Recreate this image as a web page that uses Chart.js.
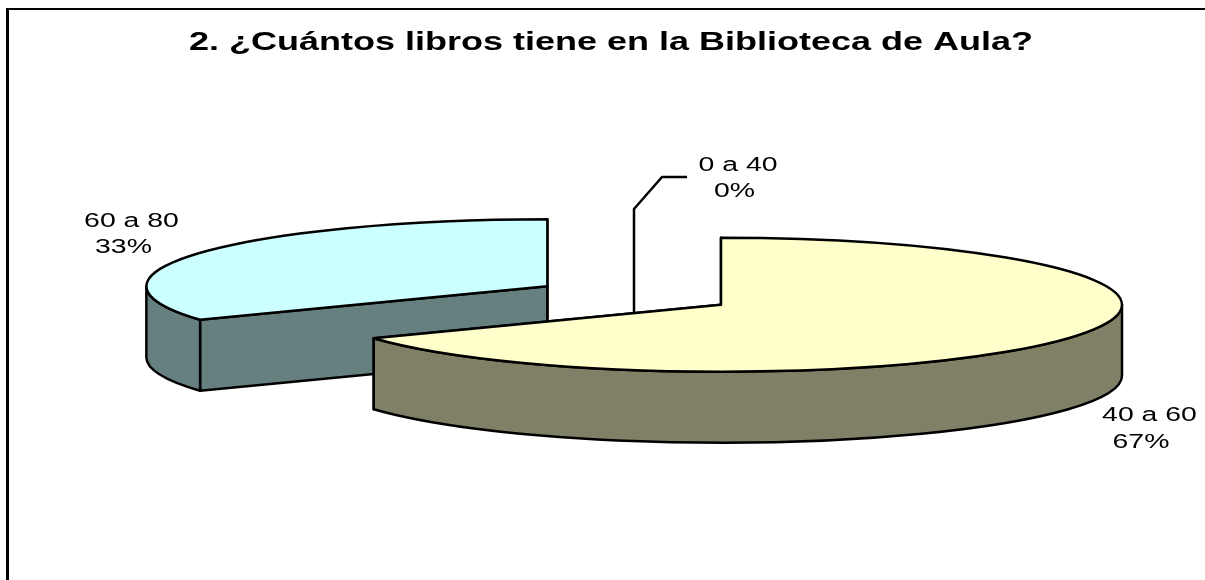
<!DOCTYPE html>
<html>
<head>
<meta charset="utf-8">
<script src="https://cdn.jsdelivr.net/npm/chart.js@4"></script>
<style>
  html, body { margin: 0; background: #fff; overflow: hidden; }
  #frame { position: absolute; left: 6px; top: 8px; width: 1199px; height: 572px; border-left: 3px solid #000; border-top: 2px solid #000; }
  canvas { position: absolute; left: 0; top: 0; }
</style>
</head>
<body>
<div id="frame"></div>
<canvas id="pie" width="1205" height="580"></canvas>
<script>
const chartTitle = '2. ¿Cuántos libros tiene en la Biblioteca de Aula?';
const categories = ['0 a 40', '40 a 60', '60 a 80'];
const values = [0, 2, 1];
const percents = ['0%', '67%', '33%'];
const topColors = ['#FFFFFF', '#FFFFCC', '#CCFFFF'];
const sideColors = ['#808080', '#808066', '#668080'];

// the chart is a flat pie for Chart.js, the 3D look is done at draw time
const squash = 67 / 401;
const depth = 71;
const pieShiftX = 110;
const explode = [0, 0, 0.5];
const explodeLift = 1.1;
const textStretch = 1.42;
const titleStretch = 1.44;
const nameSpots = [[738, 165], [1149.5, 415], [131.5, 221]];
const percentSpots = [[734.5, 191], [1141, 442], [123.5, 247]];
const leader = [[687, 177], [662, 177], [634, 209], [634, 313]];

function slicePath(ctx, a, from, to, down) {
  ctx.ellipse(a.cx, a.cy + down, a.r, a.r * squash, 0, from, to);
}

function drawSlice(ctx, a, top, side) {
  ctx.strokeStyle = '#000';
  ctx.lineWidth = 2.5;
  ctx.lineJoin = 'round';

  // cut faces first, later fills hide the ones facing away
  ctx.fillStyle = side;
  [a.start, a.end].forEach(angle => {
    const ex = a.cx + Math.cos(angle) * a.r;
    const ey = a.cy + Math.sin(angle) * a.r * squash;
    ctx.beginPath();
    ctx.moveTo(a.cx, a.cy);
    ctx.lineTo(ex, ey);
    ctx.lineTo(ex, ey + depth);
    ctx.lineTo(a.cx, a.cy + depth);
    ctx.closePath();
    ctx.fill();
    ctx.stroke();
  });

  // outer wall, only the part between 0 and 180 degrees faces the viewer
  const from = Math.max(a.start, 0);
  const to = Math.min(a.end, Math.PI);
  if (to > from) {
    ctx.beginPath();
    slicePath(ctx, a, from, to, 0);
    ctx.ellipse(a.cx, a.cy + depth, a.r, a.r * squash, 0, to, from, true);
    ctx.closePath();
    ctx.fill();
    ctx.stroke();
  }

  ctx.fillStyle = top;
  ctx.beginPath();
  ctx.moveTo(a.cx, a.cy);
  slicePath(ctx, a, a.start, a.end, 0);
  ctx.closePath();
  ctx.fill();
  ctx.stroke();
}

function stretchedText(ctx, text, x, y) {
  ctx.save();
  ctx.translate(x, y);
  ctx.scale(textStretch, 1);
  ctx.fillText(text, 0, 0);
  ctx.restore();
}

const pie3d = {
  id: 'pie3d',
  afterLayout(chart) {
    // stretch the library's title sideways, like the reference
    const block = chart.titleBlock;
    if (block._stretched) return;
    const plain = block.draw.bind(block);
    const ctx = chart.ctx;
    block.draw = function () {
      const mid = (block.left + block.right) / 2;
      ctx.save();
      ctx.translate(mid, 0);
      ctx.scale(titleStretch, 1);
      ctx.translate(-mid, 0);
      plain();
      ctx.restore();
    };
    block._stretched = true;
  },
  beforeDatasetsDraw(chart) {
    const ctx = chart.ctx;
    const arcs = chart.getDatasetMeta(0).data;

    const pieces = arcs.map((arc, i) => {
      const p = arc.getProps(['x', 'y', 'startAngle', 'endAngle', 'outerRadius'], true);
      const mid = (p.startAngle + p.endAngle) / 2;
      const push = explode[i] * p.outerRadius;
      return {
        start: p.startAngle,
        end: p.endAngle,
        r: p.outerRadius,
        cx: p.x + pieShiftX + Math.cos(mid) * push,
        cy: p.y + Math.sin(mid) * push * squash * explodeLift
      };
    });

    // far slice first
    [2, 1].forEach(i => {
      if (values[i] > 0) drawSlice(ctx, pieces[i], topColors[i], sideColors[i]);
    });

    ctx.save();
    ctx.strokeStyle = '#000';
    ctx.lineWidth = 2.5;
    ctx.beginPath();
    leader.forEach(([x, y], n) => (n ? ctx.lineTo(x, y) : ctx.moveTo(x, y)));
    ctx.stroke();
    ctx.restore();

    ctx.save();
    ctx.fillStyle = '#000';
    ctx.font = '20px "Liberation Sans"';
    ctx.textAlign = 'center';
    ctx.textBaseline = 'middle';
    categories.forEach((name, i) => {
      stretchedText(ctx, name, nameSpots[i][0], nameSpots[i][1]);
      stretchedText(ctx, percents[i], percentSpots[i][0], percentSpots[i][1]);
    });
    ctx.restore();

    return false;
  }
};

new Chart(document.getElementById('pie').getContext('2d'), {
  type: 'pie',
  data: {
    labels: categories,
    datasets: [{ data: values, backgroundColor: topColors, borderWidth: 0 }]
  },
  options: {
    responsive: false,
    animation: false,
    radius: 401,
    layout: { padding: { left: 17, bottom: 35.6 } },
    plugins: {
      legend: { display: false },
      tooltip: { enabled: false },
      title: {
        display: true,
        text: chartTitle,
        color: '#000',
        font: { family: '"Liberation Sans"', size: 25, weight: 'bold' },
        padding: { top: 28, bottom: 7 }
      }
    }
  },
  plugins: [pie3d]
});
</script>
</body>
</html>
